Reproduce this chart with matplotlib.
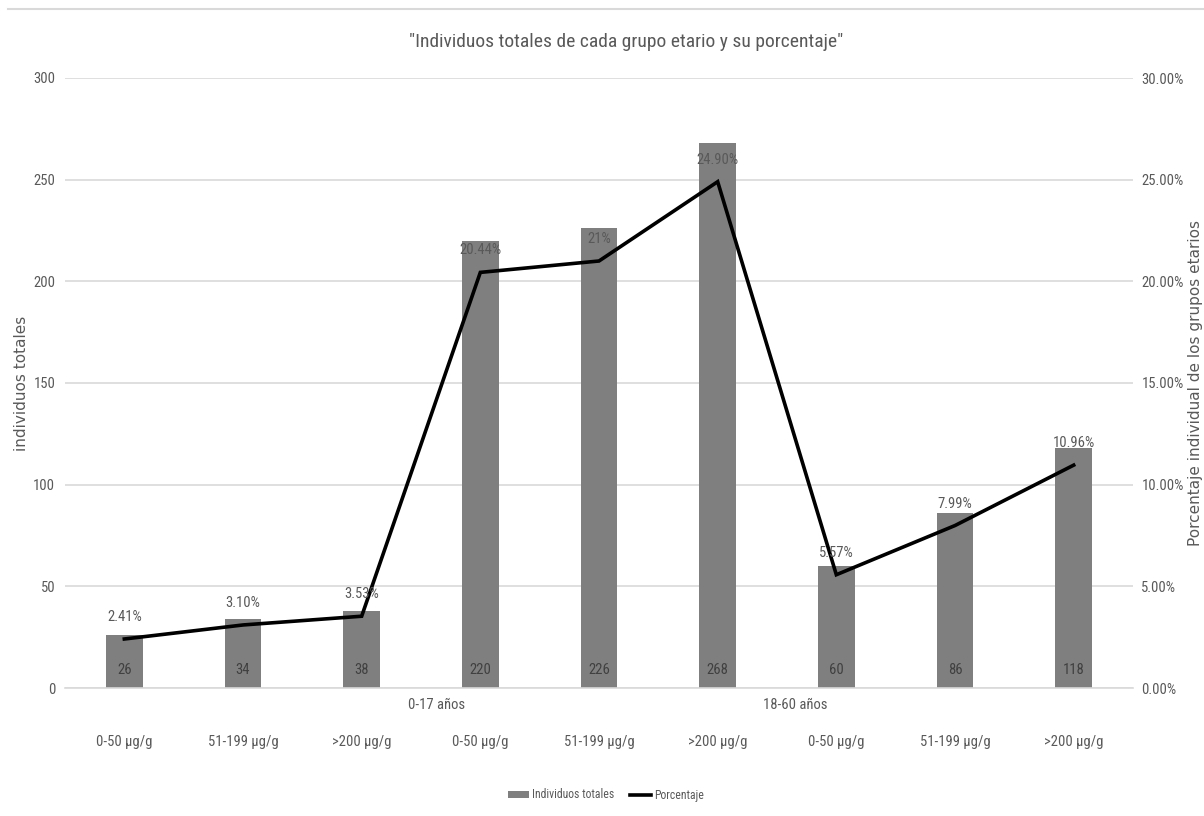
import matplotlib
matplotlib.use("Agg")
import matplotlib.pyplot as plt
from matplotlib import font_manager
from matplotlib.lines import Line2D
from matplotlib.patches import Patch
from matplotlib.ticker import MultipleLocator, FuncFormatter

# Data
categories = ["0-50 µg/g", "51-199 µg/g", ">200 µg/g",
              "0-50 µg/g", "51-199 µg/g", ">200 µg/g",
              "0-50 µg/g", "51-199 µg/g", ">200 µg/g"]
age_groups = ["0-17 años", "18-60 años"]
totals = [26, 34, 38, 220, 226, 268, 60, 86, 118]
percentages = [2.41, 3.10, 3.53, 20.44, 21.0, 24.90, 5.57, 7.99, 10.96]
pct_labels = ["2.41%", "3.10%", "3.53%", "20.44%", "21%", "24.90%",
              "5.57%", "7.99%", "10.96%"]

# Fonts: a narrow face for horizontal texts, a regular one for axis titles
available = {f.name for f in font_manager.fontManager.ttflist}
narrow = next((n for n in ["Liberation Sans Narrow", "DejaVu Sans Condensed",
                           "Roboto Condensed", "Open Sans Condensed",
                           "Liberation Sans"] if n in available), "DejaVu Sans")
regular = "DejaVu Sans"

TXT = "#595959"
GRID = "#D9D9D9"
BAR = "#7F7F7F"

fig = plt.figure(figsize=(12.04, 8.16), dpi=100)
ax = fig.add_axes([65 / 1204, 1 - 688 / 816, (1133 - 65) / 1204, (688 - 78) / 816])
ax2 = ax.twinx()

x = list(range(len(categories)))
ax.bar(x, totals, width=0.31, color=BAR, zorder=2)
ax.set_xlim(-0.5, len(categories) - 0.5)
ax.set_ylim(0, 300)
ax.yaxis.set_major_locator(MultipleLocator(50))
ax.grid(axis="y", color=GRID, linewidth=1.2, zorder=0)
ax.set_axisbelow(True)

ax2.plot(x, percentages, color="black", linewidth=2.6, zorder=3,
         solid_joinstyle="miter")
ax2.set_ylim(0, 30)
ax2.yaxis.set_major_locator(MultipleLocator(5))
ax2.yaxis.set_major_formatter(FuncFormatter(lambda v, p: f"{v:.2f}%"))

for a in (ax, ax2):
    for s in a.spines.values():
        s.set_visible(False)
    a.tick_params(length=0, colors=TXT, labelsize=10.5)
    for lab in a.get_yticklabels():
        lab.set_fontfamily(narrow)
ax.spines["bottom"].set_visible(True)
ax.spines["bottom"].set_color(GRID)
ax.spines["bottom"].set_linewidth(1.2)
ax.tick_params(axis="y", pad=7)
ax2.tick_params(axis="y", pad=6)

ax.set_xticks(x)
ax.set_xticklabels(categories, fontfamily=narrow, fontsize=10.5, color=TXT)
ax.tick_params(axis="x", pad=34)

# Age group labels on the second category row
for name, pos in zip(age_groups, [2.63, 5.65]):
    ax.annotate(name, xy=(pos, 0), xycoords=("data", "axes fraction"),
                xytext=(0, -17), textcoords="offset pixels",
                ha="center", va="center", fontfamily=narrow,
                fontsize=10.5, color=TXT)

# Count labels at the base of each bar
for xi, v in zip(x, totals):
    ax.annotate(str(v), xy=(xi, 0), xytext=(0, 18), textcoords="offset pixels",
                ha="center", va="center", fontfamily=narrow, fontsize=10.5,
                color="#404040", zorder=4)

# Percentage labels above each line point
for xi, v, t in zip(x, percentages, pct_labels):
    ax2.annotate(t, xy=(xi, v), xytext=(0, 22), textcoords="offset pixels",
                 ha="center", va="center", fontfamily=narrow, fontsize=10.5,
                 color=TXT, zorder=4)

ax.set_ylabel("individuos totales", fontfamily=regular, fontsize=11,
              color=TXT)
ax.yaxis.set_label_coords(-36 / 1068, 0.5)
ax2.set_ylabel("Porcentaje individual de los grupos etarios", fontfamily=regular,
               fontsize=11, color=TXT)
ax2.yaxis.set_label_coords(1 + 55 / 1068, 0.5)

fig.text(626 / 1204, 1 - 42 / 816,
         '"Individuos totales de cada grupo etario y su porcentaje"',
         ha="center", va="center", fontfamily=narrow, fontsize=14, color=TXT)

# Thin rule along the top of the chart area
fig.add_artist(Line2D([8 / 1204, 1.0], [1 - 9 / 816, 1 - 9 / 816],
                      transform=fig.transFigure, color=GRID, linewidth=1.5))

handles = [Patch(facecolor=BAR, label="Individuos totales"),
           Line2D([], [], color="black", linewidth=2.6, label="Porcentaje")]
fig.legend(handles=handles, loc="center", bbox_to_anchor=(606 / 1204, 1 - 795 / 816),
           ncol=2, frameon=False, handlelength=1.8, handleheight=0.6,
           handletextpad=0.25, columnspacing=1.3,
           prop={"family": narrow, "size": 8.5}, labelcolor=TXT)

fig.savefig("out.png", dpi=100)
